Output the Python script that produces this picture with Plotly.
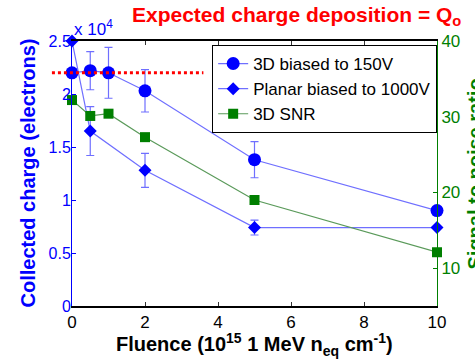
import plotly.graph_objects as go

fluence_3d = [0, 0.5, 1, 2, 5, 10]
charge_3d = [2.2, 2.22, 2.2, 2.03, 1.38, 0.9]
err_3d = [0, 0.18, 0.24, 0.2, 0.17, 0]

fluence_planar = [0, 0.5, 2, 5, 10]
charge_planar = [2.5, 1.65, 1.28, 0.74, 0.74]
err_planar = [0, 0.23, 0.16, 0.07, 0]

fluence_snr = [0, 0.5, 1, 2, 5, 10]
snr_3d = [32.2, 30.1, 30.4, 27.3, 19.0, 12.1]

expected_x = [-0.55, 3.6]
expected_q = 2.2

x_range = [0, 10]
y_range = [0, 2.5]
y2_range = [5, 40]

BLUE = "#0000ff"
LBLUE = "#6f6fff"
GREEN = "#007f00"
FONT = "Liberation Sans, Arial, sans-serif"

fig = go.Figure()
fig.add_trace(go.Scatter(
    x=fluence_3d, y=charge_3d, name="3D biased to 150V", mode="lines+markers",
    line=dict(color=LBLUE, width=1.2),
    marker=dict(symbol="circle", size=13, color=BLUE),
    error_y=dict(type="data", array=err_3d, color=LBLUE, thickness=1.2, width=4),
    cliponaxis=False))
fig.add_trace(go.Scatter(
    x=fluence_planar, y=charge_planar, name="Planar biased to 1000V", mode="lines+markers",
    line=dict(color=LBLUE, width=1.2),
    marker=dict(symbol="diamond", size=10, color=BLUE),
    error_y=dict(type="data", array=err_planar, color=LBLUE, thickness=1.2, width=4),
    cliponaxis=False))
fig.add_trace(go.Scatter(
    x=fluence_snr, y=snr_3d, name="3D SNR", mode="lines+markers", yaxis="y2",
    line=dict(color="#5a9a5a", width=1.2),
    marker=dict(symbol="square", size=10, color=GREEN),
    cliponaxis=False))

def to_paper(v, r):
    return (v - r[0]) / (r[1] - r[0])

fig.add_shape(type="line", xref="paper", yref="y",
              x0=to_paper(expected_x[0], x_range), x1=to_paper(expected_x[1], x_range),
              y0=expected_q, y1=expected_q,
              line=dict(color="red", width=3, dash="dot"))

fig.update_layout(
    width=475, height=364,
    margin=dict(l=72, r=38, t=41, b=58),
    paper_bgcolor="white", plot_bgcolor="white",
    font=dict(family=FONT, size=15),
    showlegend=True,
    legend=dict(x=0.384, y=0.985, xanchor="left", yanchor="top",
                bordercolor="black", borderwidth=1, bgcolor="white",
                font=dict(size=17, color="black"), tracegroupgap=0),
    xaxis=dict(range=x_range, tickvals=[0, 2, 4, 6, 8, 10], ticks="inside", ticklen=4,
               tickcolor="#333", showline=True, linecolor="black", linewidth=1.5,
               mirror="ticks", showgrid=False, zeroline=False,
               tickfont=dict(size=17, color="black")),
    yaxis=dict(range=y_range, tickvals=[0, 0.5, 1, 1.5, 2, 2.5],
               ticktext=["0", "0.5", "1", "1.5", "2", "2.5"],
               ticks="inside", ticklen=4, tickcolor=BLUE, ticklabelstandoff=-3,
               showline=True, linecolor=BLUE, linewidth=1, showgrid=False, zeroline=False,
               tickfont=dict(size=16, color=BLUE)),
    yaxis2=dict(range=y2_range, overlaying="y", side="right",
                tickvals=[10, 20, 30, 40], ticks="inside", ticklen=4, tickcolor=GREEN,
                showline=True, linecolor=GREEN, linewidth=1, showgrid=False, zeroline=False,
                tickfont=dict(size=17, color=GREEN)),
)

fig.add_annotation(text="<b>Expected charge deposition = Q<sub>o</sub></b>",
                   xref="paper", yref="paper", x=to_paper(6.15, x_range), y=1.0,
                   yshift=25, xanchor="center", yanchor="middle", showarrow=False,
                   font=dict(size=21, color="red"))
fig.add_annotation(text="x 10<sup>4</sup>", xref="paper", yref="paper", x=0.0, y=1.0,
                   xanchor="left", yanchor="bottom", showarrow=False, yshift=0,
                   font=dict(size=17, color=BLUE))
fig.add_annotation(text="<b>Collected charge (electrons)</b>", xref="paper", yref="paper",
                   x=0.0, y=0.5, xanchor="center", yanchor="middle", textangle=-90,
                   showarrow=False, font=dict(size=20, color=BLUE), xshift=-45)
fig.add_annotation(text="<b>Signal to noise ratio</b>", xref="paper", yref="paper",
                   x=1.0, y=0.5, xanchor="center", yanchor="middle", textangle=-90,
                   showarrow=False, font=dict(size=20, color=GREEN), xshift=37, yshift=-1)
fig.add_annotation(text="<b>Fluence (10<sup>15</sup> 1 MeV n<sub>eq</sub> cm<sup>-1</sup>)</b>",
                   xref="paper", yref="paper", x=to_paper(5.0, x_range), y=0.0,
                   xanchor="center", yanchor="middle", yshift=-38, showarrow=False,
                   font=dict(size=20, color="black"))

fig.write_html("out.html")
